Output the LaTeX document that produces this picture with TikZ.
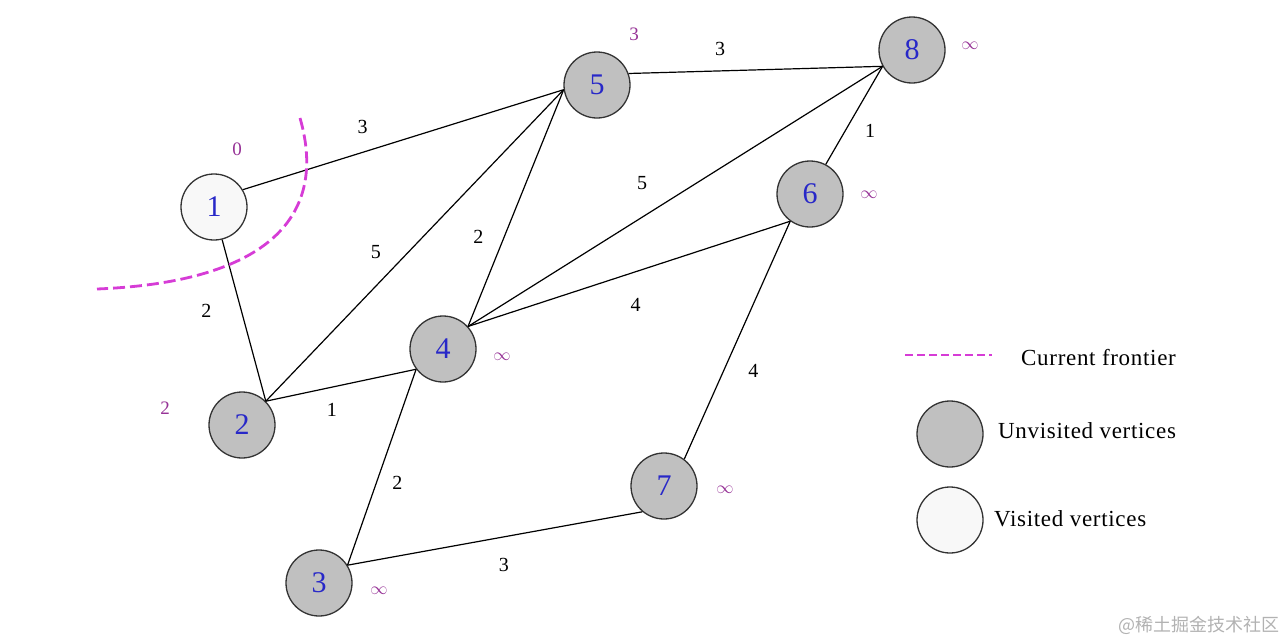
\documentclass[tikz,border=0pt]{standalone}
\usepackage{fontspec}
\setmainfont{Liberation Serif}
\newfontfamily\legendfont[LetterSpace=3]{Liberation Serif}
\newfontfamily\cjkfont{Noto Sans CJK SC}
\usepackage{tikz}
\usetikzlibrary{arrows.meta}
\usetikzlibrary{positioning}

\definecolor{vertexgray}{RGB}{192,192,192}
\definecolor{visitedfill}{RGB}{248,248,248}
\definecolor{vertexblue}{RGB}{40,40,200}
\definecolor{distpurple}{RGB}{150,50,150}
\definecolor{frontiermag}{RGB}{214,60,214}

\begin{document}
\begin{tikzpicture}[
    x=1pt, y=-1pt,
    vertex/.style={circle, draw=black!80, line width=1.3pt, fill=vertexgray, minimum size=66pt, inner sep=0pt, text=vertexblue, font=\fontsize{30}{30}\selectfont},
    visited/.style={vertex, fill=visitedfill},
    edge/.style={line width=1.2pt},
    wlabel/.style={font=\fontsize{20}{20}\selectfont, inner sep=0pt},
    dist/.style={font=\fontsize{19}{19}\selectfont, text=distpurple, inner sep=0pt},
    frontier/.style={draw=frontiermag, line width=2.8pt, dash pattern=on 12pt off 5pt},
    legendtext/.style={font=\legendfont\fontsize{23}{23}\selectfont, anchor=west, inner sep=0pt},
    every node/.style={font=\small}
    ]
    \useasboundingbox (0,0) rectangle (1284,640);

    % Nodes
    \node[visited] (n1) at (214,207) {1};
    \node[vertex] (n2) at (242,425) {2};
    \node[vertex] (n3) at (319,583) {3};
    \node[vertex] (n4) at (443,349) {4};
    \node[vertex] (n5) at (597,85) {5};
    \node[vertex] (n6) at (810,194) {6};
    \node[vertex] (n7) at (664,486) {7};
    \node[vertex] (n8) at (912,50) {8};

    % Distances
    \node[dist] (d1) at (237,149) {0};
    \node[dist] (d2) at (165,408) {2};
    \node[dist] (d3) at (379,591) {$\infty$};
    \node[dist] (d4) at (502,357) {$\infty$};
    \node[dist] (d5) at (634,34) {3};
    \node[dist] (d6) at (869,195) {$\infty$};
    \node[dist] (d7) at (725,490) {$\infty$};
    \node[dist] (d8) at (970,46) {$\infty$};

    % Edges
    \draw[edge] (n1.31) -- (n5.188) node[wlabel, pos=0.37, xshift=1pt, yshift=26pt] {3};

    \draw[edge] (n1.284) -- (n2.45) node[wlabel, pos=0.44, xshift=-35pt] {2};

    \draw[edge] (n2.45) -- (n5.188) node[wlabel, pos=0.48, xshift=-33pt] {5};

    \draw[edge] (n4.42) -- (n5.188) node[wlabel, pos=0.38, xshift=-26pt] {2};

    \draw[edge] (n4.42) -- (n8.209) node[wlabel, pos=0.42, yshift=34pt] {5};

    \draw[edge] (n4.42) -- (n6.234) node[wlabel, pos=0.52, yshift=-33pt] {4};

    \draw[edge] (n2.45) -- (n4.217) node[wlabel, pos=0.44, yshift=-23pt] {1};

    \draw[edge] (n3.32) -- (n4.217) node[wlabel, pos=0.42, xshift=21pt] {2};

    \draw[edge] (n3.32) -- (n7.230) node[wlabel, pos=0.53, yshift=-28pt] {3};

    \draw[edge] (n6.234) -- (n7.53) node[wlabel, pos=0.63, xshift=30pt] {4};

    \draw[edge] (n6.62) -- (n8.209) node[wlabel, pos=0.34, xshift=25pt] {1};

    \draw[edge] (n5.20) -- (n8.209) node[wlabel, pos=0.36, yshift=22pt] {3};

    % Frontier
    \coordinate (fstart) at (300,118);
    \coordinate (fend) at (97,289);
    \draw[frontier] (fstart) .. controls (328,215) and (270,282) .. (fend);

    % Legend
    \coordinate (legA) at (905,355);
    \coordinate (legB) at (992,355);
    \draw[frontier, dash pattern=on 8pt off 4pt] (legA) -- (legB);
    \node[legendtext] (tfront) at (1021,358) {Current frontier};

    \node[vertex] (lgun) at (950,434) {};
    \node[legendtext] (tun) at (998,431) {Unvisited vertices};

    \node[visited] (lgvis) at (950,520) {};
    \node[legendtext] (tvis) at (994,519) {Visited vertices};

    \node[anchor=east, inner sep=0pt, text=black!30, font=\cjkfont\fontsize{18}{18}\selectfont] (mark) at (1280,625) {@稀土掘金技术社区};

    \end{tikzpicture}
\end{document}
